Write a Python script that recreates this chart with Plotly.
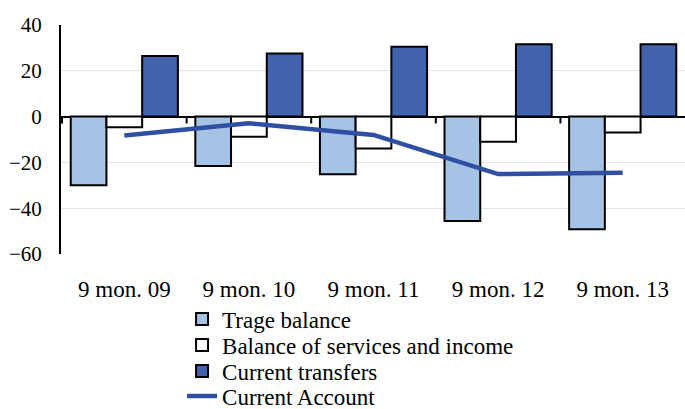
import plotly.graph_objects as go

categories = ["9 mon. 09", "9 mon. 10", "9 mon. 11", "9 mon. 12", "9 mon. 13"]
trade_balance = [-30.0, -21.6, -25.2, -45.6, -49.2]
services_income = [-4.7, -8.8, -13.9, -11.0, -6.9]
current_transfers = [26.5, 27.6, 30.5, 31.6, 31.6]
current_account = [-8.3, -2.9, -8.0, -25.1, -24.5]
y_ticks = [-60, -40, -20, 0, 20, 40]

FONT = "Liberation Serif, Times New Roman, serif"
fig = go.Figure()
fig.add_trace(go.Bar(x=categories, y=trade_balance, name="Trage balance", legend="legend",
                     marker=dict(color="#A4C3E5", line=dict(color="black", width=2))))
fig.add_trace(go.Bar(x=categories, y=services_income, name="Balance of services and income",
                     legend="legend2",
                     marker=dict(color="white", line=dict(color="black", width=2))))
fig.add_trace(go.Bar(x=categories, y=current_transfers, name="Current transfers",
                     legend="legend3",
                     marker=dict(color="#4263AE", line=dict(color="black", width=2))))
fig.add_trace(go.Scatter(x=categories, y=current_account, name="Current Account",
                         legend="legend4",
                         mode="lines", line=dict(color="#2F4FA2", width=4.5)))

# small tick marks on the zero line between categories
shapes = []
for i in range(len(categories)):
    shapes.append(dict(type="line", xref="x", yref="y", x0=i - 0.5, x1=i - 0.5,
                       y0=0, y1=-3, line=dict(color="black", width=2)))

# one legend per row so the rows can sit as tightly as in the original
plot_top, plot_bottom = 25, 254
row_centers_px = [319, 345, 371, 396]
legends = {}
for k, yc in enumerate(row_centers_px):
    key = "legend" if k == 0 else f"legend{k + 1}"
    legends[key] = dict(orientation="v", x=0.194, xanchor="left",
                        y=(plot_bottom - yc) / (plot_bottom - plot_top), yanchor="middle",
                        font=dict(family=FONT, size=23, color="black"),
                        itemwidth=30, bgcolor="rgba(0,0,0,0)", borderwidth=0)

fig.update_layout(
    width=685, height=409,
    margin=dict(l=61, r=0, t=25, b=155, autoexpand=False),
    paper_bgcolor="white", plot_bgcolor="white",
    barmode="group", bargap=0.14, bargroupgap=0,
    font=dict(family=FONT, size=21, color="black"),
    showlegend=True,
    shapes=shapes,
    **legends,
)
fig.update_xaxes(type="category", showgrid=False, showline=False, zeroline=False,
                 ticks="outside", ticklen=14, tickcolor="rgba(0,0,0,0)",
                 tickfont=dict(family=FONT, size=23, color="black"))
fig.update_yaxes(range=[-60, 40], tickvals=y_ticks, showgrid=True, gridcolor="#E3E3E3",
                 gridwidth=1, showline=True, linecolor="black", linewidth=2,
                 zeroline=True, zerolinecolor="black", zerolinewidth=2,
                 ticks="outside", ticklen=13, tickcolor="rgba(0,0,0,0)",
                 tickfont=dict(family=FONT, size=21, color="black"))

fig.write_html("out.html", config={"displayModeBar": False},
               post_script="document.body.style.margin='0';")
